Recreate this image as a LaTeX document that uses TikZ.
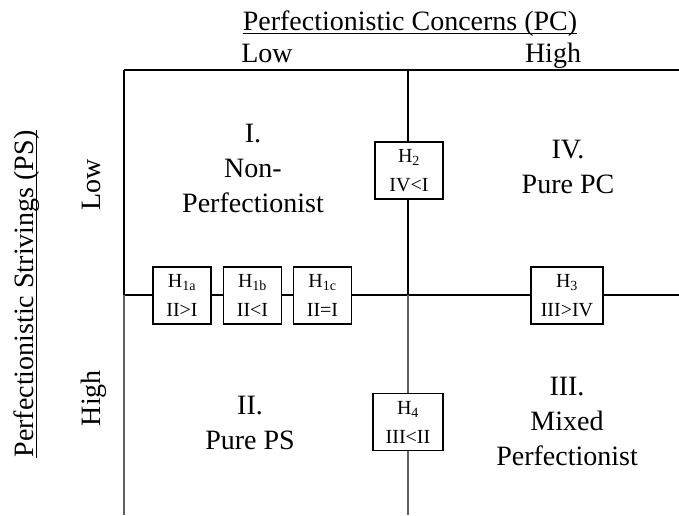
\documentclass[tikz,border=0pt]{standalone}
\usepackage{fontspec}
\setmainfont{Liberation Serif}
\usetikzlibrary{positioning}

\tikzset{
  hyp/.style={draw, line width=1.3pt, fill=white, minimum width=58pt, minimum height=57pt,
              align=center, inner sep=1pt, font=\fontsize{20}{29}\selectfont},
  cell/.style={align=center, font=\fontsize{28}{35}\selectfont},
  lvl/.style={font=\fontsize{28}{30}\selectfont, inner sep=0pt, anchor=base},
  grid/.style={line width=1.5pt},
  lowgrid/.style={line width=1.3pt, gray!75!black},
  uline/.style={line width=1.1pt}
}

\begin{document}
\begin{tikzpicture}[x=1pt,y=-1pt]
    \useasboundingbox (0,0) rectangle (679,515);

    % Grid lines
    \draw[grid] (124,70) -- (679,70);
    \draw[grid] (124,295) -- (679,295);
    \draw[grid] (124,70) -- (124,295);
    \draw[grid] (408,70) -- (408,295);
    \draw[lowgrid] (124,295) -- (124,515);
    \draw[lowgrid] (408,295) -- (408,515);

    % Axis titles (underlined)
    \node[lvl] (pc) at (410,30) {Perfectionistic Concerns (PC)};
    \draw[uline] ([yshift=-3.5pt]pc.base west) -- ([yshift=-3.5pt]pc.base east);
    \node[lvl] (pclow) at (267,62) {Low};
    \node[lvl] (pchigh) at (553,62) {High};
    \node[lvl, rotate=90] (ps) at (33,294) {Perfectionistic Strivings (PS)};
    \draw[uline] ([xshift=3.5pt]ps.base west) -- ([xshift=3.5pt]ps.base east);
    \node[lvl, rotate=90] (pslow) at (100,185) {Low};
    \node[lvl, rotate=90] (pshigh) at (100,398) {High};

    % Quadrants
    \node[cell] (q1) at (253,168) {I.\\Non-\\Perfectionist};
    \node[cell] (q4) at (568,167) {IV.\\Pure PC};
    \node[cell] (q2) at (250,423) {II.\\Pure PS};
    \node[cell] (q3) at (567,421) {III.\\Mixed\\Perfectionist};

    % Hypotheses
    \node[hyp] (h1a) at (182,295.5) {H\textsubscript{1a}\\II>I};
    \node[hyp] (h1b) at (252.5,295.5) {H\textsubscript{1b}\\II<I};
    \node[hyp] (h1c) at (322.5,295.5) {H\textsubscript{1c}\\II=I};
    \node[hyp, minimum width=68pt] (h2) at (409,170.5) {H\textsubscript{2}\\IV<I};
    \node[hyp, minimum width=72pt] (h3) at (567,295.5) {H\textsubscript{3}\\III>IV};
    \node[hyp, minimum width=70pt] (h4) at (408,422) {H\textsubscript{4}\\III<II};

\end{tikzpicture}
\end{document}
